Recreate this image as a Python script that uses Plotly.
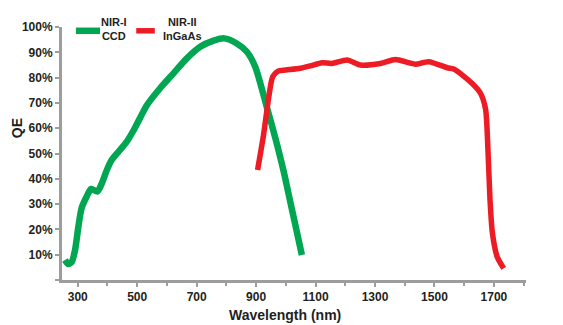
import plotly.graph_objects as go

# Quantum efficiency curves (wavelength in nm, QE in %)
ccd_nm = [257, 268, 280, 291, 302, 313, 330, 345, 366, 381, 398, 414, 437, 465,
          487, 504, 532, 577, 622, 667, 712, 757, 793, 835, 869, 897, 937,
          965, 993, 1015, 1037, 1054]
ccd_qe = [7.9, 6.3, 7.2, 11.9, 21.0, 28.4, 33.0, 36.0, 35.0, 38.2, 43.5, 47.4, 50.7, 54.7,
          59.0, 62.8, 69.0, 75.8, 81.7, 87.6, 92.2, 94.6, 95.5, 93.5, 90.2, 84.3, 67.9,
          56.0, 42.8, 30.9, 19.1, 9.9]

ingaas_nm = [905, 925, 942, 956, 975, 1000, 1049, 1082, 1122, 1155, 1206, 1251, 1318,
             1369, 1413, 1437, 1481, 1543, 1565, 1627, 1655, 1672, 1680, 1687, 1695,
             1711, 1733]
ingaas_qe = [43.5, 57.3, 71.8, 80.4, 82.6, 83.0, 83.7, 84.6, 85.9, 85.6, 87.0, 85.0, 85.6,
             87.2, 85.9, 85.3, 86.3, 83.9, 83.4, 77.7, 73.8, 67.5, 51.4, 31.6, 18.5,
             9.2, 4.6]

series_names = ["NIR-I<br>CCD", "NIR-II<br>InGaAs"]
series_colors = ["#00A651", "#ED1C24"]
series_widths = [6.5, 5.5]

x_ticks = [300, 500, 700, 900, 1100, 1300, 1500, 1700]
y_ticks = [0, 10, 20, 30, 40, 50, 60, 70, 80, 90, 100]
y_labels = ["" if v == 0 else f"{v}%" for v in y_ticks]

FONT = "Liberation Sans, Arial, sans-serif"
TXT = "#231F20"
AXIS = "#9D9D9D"

fig = go.Figure()
for xs, ys, name, color, w in zip([ccd_nm, ingaas_nm], [ccd_qe, ingaas_qe],
                                  series_names, series_colors, series_widths):
    fig.add_trace(go.Scatter(
        x=xs, y=ys, mode="lines", name=name, showlegend=False,
        line=dict(color=color, width=w, shape="spline", smoothing=0.7),
    ))

# Key in the top-left corner: short line sample followed by centred two-line label
key_items = [
    dict(x0=0.030, x1=0.082, tx=0.112),
    dict(x0=0.160, x1=0.200, tx=0.259),
]
shapes = []
annotations = []
for item, name, color, w in zip(key_items, series_names, series_colors, series_widths):
    shapes.append(dict(type="line", xref="paper", yref="paper",
                       x0=item["x0"], x1=item["x1"], y0=0.985, y1=0.985,
                       line=dict(color=color, width=w)))
    annotations.append(dict(text=name, xref="paper", yref="paper",
                            x=item["tx"], y=0.994, xanchor="center", yanchor="middle",
                            align="center", showarrow=False,
                            font=dict(family=FONT, size=11, color=TXT, weight="bold")))

annotations += [
    dict(text="Wavelength (nm)", xref="paper", yref="paper", x=0.48, y=-0.1,
         xanchor="center", yanchor="top", showarrow=False,
         font=dict(family=FONT, size=14, color=TXT, weight="bold")),
    dict(text="QE", xref="paper", yref="paper", x=-0.097, y=0.6,
         xanchor="center", yanchor="middle", showarrow=False, textangle=-90,
         font=dict(family=FONT, size=14, color=TXT, weight="bold")),
]

fig.update_layout(
    width=563, height=325,
    margin=dict(l=62, r=37, t=27, b=45),
    paper_bgcolor="white", plot_bgcolor="white",
    font=dict(family=FONT, color=TXT, size=12, weight="bold"),
    xaxis=dict(
        range=[247, 1808], tickvals=x_ticks, ticktext=[str(v) for v in x_ticks],
        showline=True, linecolor=AXIS, linewidth=3, showgrid=False, zeroline=False,
        ticks="outside", ticklen=4, tickwidth=2, tickcolor=AXIS,
        tickfont=dict(family=FONT, size=12, color=TXT, weight="bold"),
        minor=dict(dtick=100, tick0=300, ticks="outside", ticklen=3, tickwidth=2,
                   tickcolor=AXIS, showgrid=False),
    ),
    yaxis=dict(
        range=[0, 100], tickvals=y_ticks, ticktext=y_labels,
        showline=True, linecolor=AXIS, linewidth=3, showgrid=False, zeroline=False,
        ticks="outside", ticklen=4, tickwidth=2, tickcolor=AXIS,
        tickfont=dict(family=FONT, size=12, color=TXT, weight="bold"),
    ),
    shapes=shapes,
    annotations=annotations,
)

fig.write_html("out.html")
